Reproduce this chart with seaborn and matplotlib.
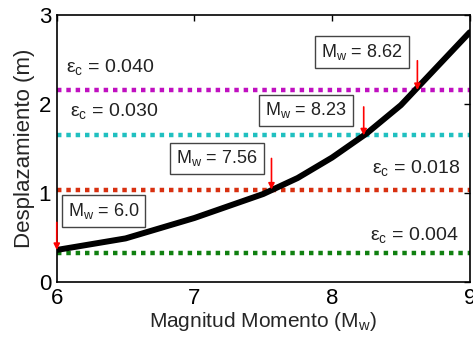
import matplotlib
matplotlib.use("Agg")
import matplotlib.pyplot as plt
import pandas as pd
import seaborn as sns

# curve: displacement vs moment magnitude
magnitude = [6.0, 6.5, 7.0, 7.5, 7.75, 8.0, 8.25, 8.5, 9.0]
displacement = [0.36, 0.49, 0.72, 0.99, 1.17, 1.40, 1.67, 1.99, 2.81]

# critical strain levels -> threshold displacement
strain_labels = ["0.004", "0.018", "0.030", "0.040"]
strain_disp = [0.33, 1.04, 1.65, 2.16]
strain_colors = ["#108010", "#d83010", "#20c0c0", "#c010c0"]

# intersections marked with arrows
cross_mw = [6.0, 7.56, 8.23, 8.62]
cross_disp = [0.36, 1.04, 1.65, 2.16]
cross_text = ["6.0", "7.56", "8.23", "8.62"]

sns.set_theme(style="white")
plt.rcParams["font.family"] = ["Liberation Sans", "DejaVu Sans"]
plt.rcParams["mathtext.fontset"] = "custom"
plt.rcParams["mathtext.rm"] = "Liberation Sans"
plt.rcParams["mathtext.it"] = "Liberation Sans:italic"

fig, ax = plt.subplots(figsize=(4.73, 3.43), dpi=100)
fig.subplots_adjust(left=0.12, right=0.993, top=0.955, bottom=0.178)

for y, col in zip(strain_disp, strain_colors):
    ax.axhline(y, color=col, lw=3.2, ls=(0, (1, 1.1)), zorder=1)

df = pd.DataFrame({"Mw": magnitude, "D": displacement})
sns.lineplot(data=df, x="Mw", y="D", color="black", lw=4.3, ax=ax, zorder=3)

# strain labels (anchored at the baseline of the text)
tkw = dict(fontsize=14, color="#222222", va="baseline")
eps = "ε$_\\mathrm{c}$ = "
ax.text(6.07, 2.36, eps + strain_labels[3], ha="left", **tkw)
ax.text(6.095, 1.865, eps + strain_labels[2], ha="left", **tkw)
ax.text(8.93, 1.225, eps + strain_labels[1], ha="right", **tkw)
ax.text(8.92, 0.47, eps + strain_labels[0], ha="right", **tkw)

# boxed Mw labels with red arrows
box_x = [6.08, 7.46, 8.106, 8.513]
box_y = [0.80, 1.39, 1.93, 2.59]
box_ha = ["left", "right", "right", "right"]
arrow_top = [0.67, 1.39, 1.97, 2.49]
for mw, hy, txt, bx, by, ha, top in zip(cross_mw, cross_disp, cross_text,
                                          box_x, box_y, box_ha, arrow_top):
    ax.text(bx, by, "M$_\\mathrm{w}$ = " + txt, ha=ha, va="center", fontsize=13,
            color="#222222", zorder=5,
            bbox=dict(boxstyle="square,pad=0.33", fc="white", ec="#444444", lw=1))
    ax.annotate("", xy=(mw, hy), xytext=(mw, top), zorder=6,
                arrowprops=dict(arrowstyle="-|>", color="red", lw=1.2,
                                mutation_scale=9, shrinkA=0, shrinkB=0))

ax.set_xlim(6, 9)
ax.set_ylim(0, 3)
ax.set_xticks([6, 7, 8, 9])
ax.set_yticks([0, 1, 2, 3])
ax.set_xlabel("Magnitud Momento (M$_\\mathrm{w}$)", fontsize=15, labelpad=1)
ax.set_ylabel("Desplazamiento (m)", fontsize=16, labelpad=3)
ax.tick_params(direction="in", length=4, width=1, labelsize=16, top=True, right=True,
               colors="black", pad=4)
for s in ax.spines.values():
    s.set_color("black")
    s.set_linewidth(1.2)

fig.savefig("out.png", dpi=100)
